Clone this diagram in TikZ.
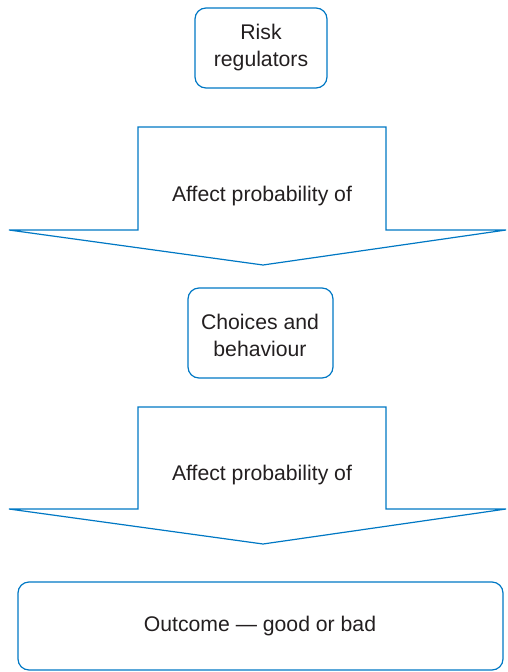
\documentclass[tikz,border=0pt]{standalone}
\usepackage{fontspec}
\setmainfont{Liberation Sans}
\definecolor{lineblue}{RGB}{0,120,196}
\definecolor{txt}{RGB}{35,31,32}
\begin{document}
\begin{tikzpicture}[x=1pt,y=-1pt,
  roundbox/.style={draw=lineblue,line width=1.2pt,rounded corners=11pt},
  bigarrow/.style={draw=lineblue,line width=1.2pt,fill=white,line join=miter},
  label/.style={text=txt,align=center,font=\fontsize{21.2}{27}\selectfont}]
\useasboundingbox (0,0) rectangle (507,672);
% box 1
\draw[roundbox] (195,8) rectangle (327,88);
\node[label] (r1) at (261,48) {Risk\\regulators};
% arrow 1
\draw[bigarrow] (138,127) -- (386,127) -- (386,230) -- (506,230) -- (263,265) -- (9,230) -- (138,230) -- cycle;
\node[label] (a1) at (262,196) {Affect probability of};
% box 2
\draw[roundbox] (188,288) rectangle (333,378);
\node[label] (r2) at (260,335) {Choices and\\behaviour};
% arrow 2
\draw[bigarrow] (138,407) -- (386,407) -- (386,509) -- (506,509) -- (263,544) -- (9,509) -- (138,509) -- cycle;
\node[label] (a2) at (262,475) {Affect probability of};
% box 3
\draw[roundbox] (18,582) rectangle (503,670);
\node[label] (r3) at (260,626) {Outcome --- good or bad};
\end{tikzpicture}
\end{document}
